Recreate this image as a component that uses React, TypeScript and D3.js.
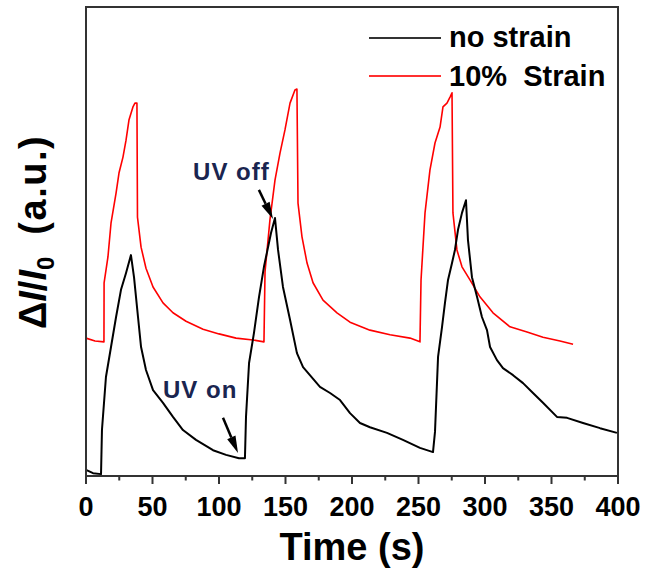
import React from "react";
import * as d3 from "d3";

// ---------- data ----------
const noStrainTime = [0, 5.3, 11.3, 12.0, 15.0, 18.8, 22.6, 26.3, 30.1, 33.8, 36.1, 39.1, 41.4, 45.1, 50.4, 57.9, 65.4, 72.9, 82.7, 95.5, 105.3, 115.0, 119.5, 120.3, 122.6, 126.3, 130.1, 133.8, 139.1, 142.1, 144.4, 148.1, 153.4, 158.6, 163.2, 175.9, 183.5, 191.0, 198.5, 206.0, 213.5, 226.3, 238.3, 251.1, 260.9, 262.4, 264.7, 267.7, 269.9, 272.2, 275.2, 277.4, 279.7, 282.7, 285.7, 287.2, 290.2, 294.0, 297.7, 301.5, 303.8, 309.0, 313.5, 321.1, 328.6, 336.1, 343.6, 354.1, 361.7, 373.7, 386.5, 399.2];
const noStrainValue = [1.3, 0.6, 0.4, 9.8, 21.1, 27.5, 33.9, 39.7, 43.3, 47.1, 42.4, 33.9, 27.5, 22.6, 18.3, 15.6, 12.6, 9.8, 7.7, 5.5, 4.5, 3.8, 3.8, 12.6, 24.1, 30.5, 38.2, 44.6, 51.8, 55.0, 48.2, 40.3, 33.3, 26.2, 23.2, 19.0, 17.7, 16.2, 13.4, 11.3, 10.4, 9.2, 7.7, 6.0, 5.1, 9.4, 25.4, 31.8, 36.9, 41.8, 45.4, 48.2, 52.5, 56.1, 58.8, 50.3, 42.4, 38.2, 33.9, 31.1, 27.5, 24.7, 23.0, 21.5, 19.8, 17.7, 15.6, 12.6, 12.4, 11.3, 10.2, 9.2];

const strainTime = [0, 6.8, 13.5, 13.6, 16.5, 18.8, 22.6, 24.8, 27.8, 30.1, 32.3, 35.3, 36.8, 38.3, 38.7, 41.4, 45.1, 50.4, 57.9, 65.4, 75.2, 88.0, 100.0, 112.8, 125.6, 133.8, 134.6, 138.3, 142.1, 145.9, 149.6, 153.4, 157.1, 158.6, 159.4, 162.4, 166.2, 170.7, 178.2, 188.7, 198.5, 213.5, 228.6, 243.6, 251.1, 251.9, 254.9, 258.6, 262.4, 266.2, 268.4, 271.4, 273.7, 275.2, 275.9, 278.9, 282.7, 288.7, 296.2, 306.0, 318.8, 331.6, 343.6, 356.4, 366.2];
const strainValue = [29.4, 28.8, 28.6, 41.2, 46.7, 53.9, 60.3, 64.6, 68.0, 71.6, 75.9, 78.7, 79.5, 79.5, 55.2, 48.8, 44.3, 40.3, 36.9, 34.8, 33.0, 31.3, 30.3, 29.4, 29.0, 28.6, 43.5, 54.6, 63.1, 68.9, 73.8, 79.5, 82.3, 82.5, 58.2, 51.0, 45.4, 41.2, 37.5, 34.8, 32.8, 31.1, 30.1, 29.4, 28.6, 41.8, 56.1, 65.2, 71.0, 74.4, 78.7, 79.5, 80.8, 81.7, 56.1, 48.2, 44.6, 41.8, 38.2, 34.8, 31.8, 30.7, 29.6, 28.8, 28.1];

const seriesNames = ["no strain", "10%  Strain"];
const seriesColors = ["#000000", "#ff0000"];
const xTicks = [0, 50, 100, 150, 200, 250, 300, 350, 400];
const xMinorTicks = [25, 75, 125, 175, 225, 275, 325, 375];

const annotationLabels = ["UV off", "UV on"];
const annotationText = [[80.5, 63.1], [57.9, 16.6]];
const annotationArrowTail = [[130, 61], [103, 12.4]];
const annotationArrowTip = [[140.6, 54.8], [114.3, 4.9]];

const W = 649, H = 573;
const M = { left: 86, top: 7, right: 618, bottom: 476 };
const FONT = "'Liberation Sans', Arial, Helvetica, sans-serif";

export default function App() {
  const x = d3.scaleLinear().domain([0, 400]).range([M.left, M.right]);
  const y = d3.scaleLinear().domain([0, 100]).range([M.bottom, M.top]);

  const line = d3.line<[number, number]>().x(d => x(d[0])).y(d => y(d[1]));
  const black = noStrainTime.map((t, i) => [t, noStrainValue[i]] as [number, number]);
  const red = strainTime.map((t, i) => [t, strainValue[i]] as [number, number]);

  const arrow = (i: number) => {
    const [x0, y0] = [x(annotationArrowTail[i][0]), y(annotationArrowTail[i][1])];
    const [x1, y1] = [x(annotationArrowTip[i][0]), y(annotationArrowTip[i][1])];
    const ang = Math.atan2(y1 - y0, x1 - x0);
    const hl = 17, hw = 4.5;
    const bx = x1 - hl * Math.cos(ang), by = y1 - hl * Math.sin(ang);
    const px = -Math.sin(ang) * hw, py = Math.cos(ang) * hw;
    return (
      <g key={"arr" + i}>
        <line x1={x0} y1={y0} x2={bx} y2={by} stroke="#000" strokeWidth={2.5} />
        <path d={`M${x1},${y1}L${bx + px},${by + py}L${bx - px},${by - py}Z`} fill="#000" />
      </g>
    );
  };

  return (
    <svg width={W} height={H} style={{ position: "absolute", left: 0, top: 0, background: "#fff" }} fontFamily={FONT}>
      <rect x={0} y={0} width={W} height={H} fill="#fff" />
      <path d={line(red) || ""} fill="none" stroke={seriesColors[1]} strokeWidth={1.6} strokeLinejoin="round" />
      <path d={line(black) || ""} fill="none" stroke={seriesColors[0]} strokeWidth={2} strokeLinejoin="round" />

      <rect x={M.left} y={M.top} width={M.right - M.left} height={M.bottom - M.top} fill="none" stroke="#333" strokeWidth={2} />

      {xTicks.map(t => (
        <g key={"t" + t}>
          <line x1={x(t)} x2={x(t)} y1={M.bottom} y2={M.bottom + 8} stroke="#333" strokeWidth={2} />
          <text x={x(t)} y={516} textAnchor="middle" fontSize={27} fontWeight="bold" fill="#000">{t}</text>
        </g>
      ))}
      {xMinorTicks.map(t => (
        <line key={"m" + t} x1={x(t)} x2={x(t)} y1={M.bottom} y2={M.bottom + 4.5} stroke="#333" strokeWidth={2} />
      ))}

      <text x={352} y={560} textAnchor="middle" fontSize={38} fontWeight="bold" fill="#000">Time (s)</text>

      <text transform="translate(46,329) rotate(-90)" textAnchor="start" fontSize={38} fontWeight="bold" fill="#000">
        <tspan>Δ</tspan>
        <tspan fontStyle="italic">I</tspan>
        <tspan>/</tspan>
        <tspan fontStyle="italic">I</tspan>
        <tspan fontSize={24} dy={8}>0</tspan>
        <tspan dy={-8} dx={22} letterSpacing={1.5}>(a.u.)</tspan>
      </text>

      {seriesNames.map((n, i) => (
        <g key={n}>
          <line x1={369} x2={441} y1={38 + i * 38} y2={38 + i * 38} stroke={i === 0 ? "#333" : "#ff3030"} strokeWidth={2} />
          <text x={449} y={47 + i * 39} fontSize={29} fontWeight="bold" fill="#000" style={{ whiteSpace: "pre" }}>{n}</text>
        </g>
      ))}

      {annotationLabels.map((l, i) => (
        <text key={l} x={x(annotationText[i][0])} y={y(annotationText[i][1])} fontSize={24} fontWeight="bold" fill="#1a2550" letterSpacing={1}>{l}</text>
      ))}
      {annotationLabels.map((_, i) => arrow(i))}
    </svg>
  );
}
